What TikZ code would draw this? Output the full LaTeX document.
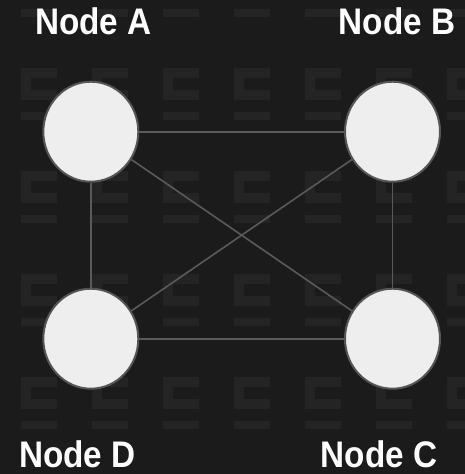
\documentclass[tikz,border=0pt]{standalone}
\usepackage{fontspec}
\newfontfamily\labfont{Liberation Sans}[FakeStretch=0.9]
\definecolor{bgc}{HTML}{1B1B1B}
\definecolor{tilec}{HTML}{242424}
\definecolor{edgec}{HTML}{5A5A5A}
\definecolor{rimc}{HTML}{555555}
\definecolor{fillc}{HTML}{EEEEEE}
\tikzset{
  vertex/.style={ellipse, draw=rimc, line width=2pt, fill=fillc, minimum width=95pt, minimum height=100pt, inner sep=0pt},
  link/.style={draw=edgec, line width=1.6pt},
  lab/.style={text=white, font=\labfont\bfseries\fontsize{37}{40}\selectfont, inner sep=0pt, anchor=base}
}
\usetikzlibrary{shapes.geometric}
\begin{document}
\begin{tikzpicture}[x=1pt,y=-1pt]
\fill[bgc] (0,0) rectangle (465,474);
\useasboundingbox (0,0) rectangle (465,474);
\foreach \cx in {21,92,163,234,305,376,447}{
  \foreach \ry in {-35,68,171,274,377}{
    \fill[tilec] (\cx,\ry) rectangle ++(36,32);
    \fill[bgc] (\cx+10,\ry+10) rectangle ++(26,12);
    \fill[tilec] (\cx,\ry+44) rectangle ++(36,8);
  }
}
\node[vertex] (A) at (90.8,131.7) {};
\node[vertex] (B) at (392.5,131.7) {};
\node[vertex] (C) at (392.5,338.7) {};
\node[vertex] (D) at (90.8,338.7) {};
\path[link] (A) -- (B);
\path[link] (A) -- (D);
\path[link] (B) -- (C);
\path[link] (D) -- (C);
\path[link] (A) -- (C);
\path[link] (B) -- (D);
\node[lab] (la) at (93.5,34.5) {Node A};
\node[lab] (lb) at (397,34.5) {Node B};
\node[lab] (lc) at (379,467.5) {Node C};
\node[lab] (ld) at (77.5,467.5) {Node D};
\end{tikzpicture}
\end{document}
